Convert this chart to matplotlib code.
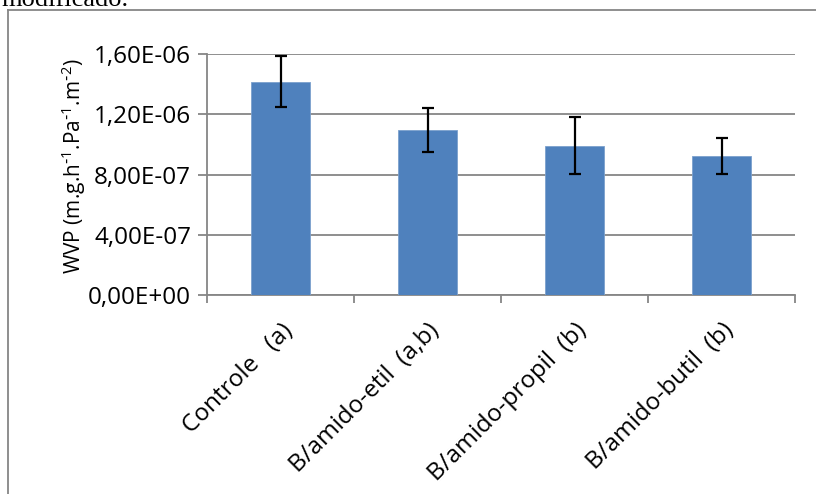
import matplotlib
matplotlib.use("Agg")
import matplotlib.pyplot as plt
from matplotlib.lines import Line2D

# valores
categorias = ["Controle   (a)", "B/amido-etil  (a,b)", "B/amido-propil  (b)", "B/amido-butil  (b)"]
wvp = [1.417e-06, 1.095e-06, 0.992e-06, 0.921e-06]
desvio = [0.170e-06, 0.148e-06, 0.190e-06, 0.120e-06]
y_ticks = [0.0, 4e-07, 8e-07, 1.2e-06, 1.6e-06]
y_labels = ["0,00E+00", "4,00E-07", "8,00E-07", "1,20E-06", "1,60E-06"]

W, H = 816, 494
cinza = "#868686"

plt.rcParams["font.family"] = ["Open Sans", "DejaVu Sans"]
plt.rcParams["mathtext.default"] = "regular"

fig = plt.figure(figsize=(W / 100, H / 100), dpi=100)
ax = fig.add_axes([207 / W, 1 - 295 / H, (795 - 207) / W, (295 - 54) / H])

x = list(range(len(categorias)))
ax.bar(x, wvp, width=0.4, color="#4F81BD", edgecolor="#7BA0CD", linewidth=0.6, zorder=3,
       yerr=desvio, error_kw=dict(ecolor="black", elinewidth=1.6, capsize=4.6, capthick=1.6))

ax.set_xlim(-0.5, 3.5)
ax.set_ylim(0, 1.6e-06)
ax.set_yticks(y_ticks)
ax.set_yticklabels(y_labels, fontsize=17.5)
ax.grid(axis="y", color=cinza, linewidth=1.3, zorder=0)

ax.set_xticks(x)
ax.set_xticklabels(categorias, fontsize=17.5, rotation=45, ha="right", rotation_mode="anchor")
ax.set_xticks([-0.5, 0.5, 1.5, 2.5, 3.5], minor=True)
ax.tick_params(axis="x", which="major", length=0, pad=17)
ax.tick_params(axis="x", which="minor", length=6, width=1.3, color=cinza)
ax.tick_params(axis="y", length=6.5, width=1.3, color=cinza, pad=5)

for s in ["top", "right"]:
    ax.spines[s].set_visible(False)
for s in ["left", "bottom"]:
    ax.spines[s].set_color(cinza)
    ax.spines[s].set_linewidth(1.3)

# rotulo do eixo y posto a mao (a caixa do mathtext e assimetrica)
fig.text(74 / W, 1 - 166 / H, r"WVP (m.g.h$^{\text{-}1}$.Pa$^{\text{-}1}$.m$^{\text{-}2}$)",
         fontsize=15, rotation=90, ha="center", va="center")

# moldura da area do grafico
fig.add_artist(Line2D([8 / W, 8 / W], [0, 1 - 10 / H], color=cinza, linewidth=1.3))
fig.add_artist(Line2D([8 / W, 1], [1 - 10 / H, 1 - 10 / H], color=cinza, linewidth=1.3))

# texto cortado do documento (cortado tambem na imagem original)
fig.text(1 / W, 1 - 6 / H, "modificado.", family="Liberation Serif", fontsize=19, va="baseline")

fig.savefig("out.png", dpi=100)
